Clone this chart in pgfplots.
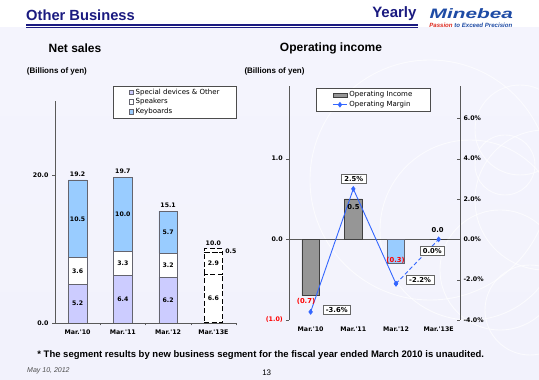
\documentclass[border=0pt]{standalone}
\usepackage{pgfplots}
\pgfplotsset{compat=1.18}
\usepackage{fontspec}
\setmainfont{Liberation Sans}
\newfontfamily\dv{DejaVu Sans}
\definecolor{navy}{RGB}{26,26,128}
\definecolor{lav}{RGB}{204,204,255}
\definecolor{kb}{RGB}{153,204,255}
\definecolor{bg}{RGB}{223,223,249}
\definecolor{bgtop}{RGB}{244,244,253}
\definecolor{bgbot}{RGB}{242,242,252}
\definecolor{lineblue}{RGB}{51,102,255}
\definecolor{logoblue}{RGB}{30,75,165}
\definecolor{logored}{RGB}{220,40,30}
\definecolor{barbd}{RGB}{100,100,110}
\definecolor{oigray}{RGB}{150,150,150}
\newcommand\lf{\dv\bfseries\fontsize{6.2}{7}\selectfont}
\newcommand\rf{\dv\bfseries\fontsize{6.8}{7}\selectfont}
\newcommand\tf{\dv\bfseries\fontsize{6.3}{7}\selectfont}
\newcommand\legf{\dv\fontsize{7}{8}\selectfont}
\pgfplotsset{
  sqleg/.style={legend image code/.code={\draw[##1,line width=0.5pt] (0pt,-2.3pt) rectangle (4.6pt,2.3pt);}},
}
\tikzset{boxlab/.style={font=\rf, draw=black!60, fill=white, inner xsep=3pt, inner ysep=1.8pt}}
\begin{document}
\begin{tikzpicture}
\useasboundingbox (0,0) rectangle (539pt,380pt);
% background
\fill[white] (0,0) rectangle (539pt,380pt);
\shade[top color=bgtop, middle color=bg, bottom color=bgbot] (0,0) rectangle (539pt,352pt);
\begin{scope}
  \clip (250pt,0pt) rectangle (539pt,352pt);
  \begin{scope}[white, line width=0.9pt, opacity=0.7]
    \draw (520pt,250pt) circle (45pt);
    \draw (505pt,215pt) circle (30pt);
    \draw (500pt,110pt) circle (60pt);
    \draw (530pt,70pt) circle (45pt);
    \draw (470pt,150pt) circle (90pt);
    \draw (545pt,180pt) circle (70pt);
    \draw (430pt,200pt) circle (120pt);
  \end{scope}
\end{scope}

% header
\node[anchor=west, text=navy, font=\bfseries\fontsize{14.7}{15}\selectfont, inner sep=0pt] at (26pt,365pt) {Other Business};
\draw[navy, line width=1.7pt] (26pt,355.2pt) -- (418pt,355.2pt);
\draw[navy, line width=0.8pt] (26pt,352.8pt) -- (418pt,352.8pt);
\node[anchor=east, text=navy, font=\bfseries\fontsize{15}{15}\selectfont, inner sep=0pt] at (416.7pt,366pt) {Yearly};
\node[text=logoblue, inner sep=0pt] at (471.3pt,366pt) {\scalebox{1.6}[1.05]{\fontsize{13}{13}\selectfont\bfseries\itshape Minebea}};
\node[text=logoblue, inner sep=0pt] at (470.8pt,354.3pt) {\resizebox{83pt}{!}{\fontsize{5.5}{5.5}\selectfont\bfseries\itshape\textcolor{logored}{Passion} to Exceed Precision}};

\node[font=\bfseries\fontsize{12}{12}\selectfont, inner sep=0pt] at (75pt,332pt) {Net sales};
\node[font=\bfseries\fontsize{12}{12}\selectfont, inner sep=0pt] at (331pt,332pt) {Operating income};
\node[anchor=west, font=\bfseries\fontsize{8}{8}\selectfont, inner sep=0pt] at (26.7pt,309pt) {(Billions of yen)};
\node[anchor=west, font=\bfseries\fontsize{8}{8}\selectfont, inner sep=0pt] at (244.3pt,309pt) {(Billions of yen)};

% ---------- Net sales ----------
\begin{axis}[
  at={(55pt,57pt)}, anchor=south west, scale only axis,
  width=181pt, height=222.3pt,
  xmin=-0.5, xmax=3.5, ymin=0, ymax=30,
  ybar stacked, bar width=18.5pt,
  axis lines*=left,
  axis line style={-, draw=black!65, line width=0.8pt},
  xtick={0,1,2,3}, xticklabels={Mar.'10,Mar.'11,Mar.'12,Mar.'13E},
  major x tick style={draw=none},
  minor xtick={0.5,1.5,2.5,3.5}, minor x tick style={draw=black!65},
  minor tick length=2.5pt, major tick length=3pt, tick align=outside,
  ytick={0,20}, yticklabels={0.0,20.0}, ytick style={draw=black!65},
  tick label style={font=\tf},
  legend style={at={(0.663,0.994)}, anchor=center, draw=black!70, fill=white,
    font=\legf, inner xsep=15pt, inner ysep=1pt, row sep=-1pt, cells={anchor=west}},
  legend cell align=left,
]
\addplot[fill=lav, draw=barbd, line width=0.6pt, sqleg] coordinates {(0,5.2) (1,6.4) (2,6.2)};
\addlegendentry{Special devices \& Other}
\addplot[fill=white, draw=barbd, line width=0.6pt, sqleg] coordinates {(0,3.6) (1,3.3) (2,3.2)};
\addlegendentry{Speakers}
\addplot[fill=kb, draw=barbd, line width=0.6pt, sqleg] coordinates {(0,10.5) (1,10.0) (2,5.7)};
\addlegendentry{Keyboards}
\end{axis}

\begin{axis}[
  at={(55pt,57pt)}, anchor=south west, scale only axis,
  width=181pt, height=222.3pt,
  xmin=-0.5, xmax=3.5, ymin=0, ymax=30,
  ybar stacked, bar width=18.5pt, hide axis,
]
\addplot[fill=white, draw=black, line width=1.1pt, dash pattern=on 5pt off 2.5pt] coordinates {(3,6.6)};
\addplot[fill=white, draw=black, line width=1.1pt, dash pattern=on 5pt off 2.5pt] coordinates {(3,2.9)};
\addplot[fill=white, draw=black, line width=1.1pt, dash pattern=on 5pt off 2.5pt] coordinates {(3,0.5)};
\end{axis}

% labels of the net sales chart
\begin{axis}[
  at={(55pt,57pt)}, anchor=south west, scale only axis,
  width=181pt, height=222.3pt,
  xmin=-0.5, xmax=3.5, ymin=0, ymax=30, hide axis, clip=false,
]
\node[font=\lf] at (axis cs:0,2.6) {5.2};
\node[font=\lf] at (axis cs:0,7.0) {3.6};
\node[font=\lf] at (axis cs:0,13.95) {10.5};
\node[font=\lf, yshift=6pt] at (axis cs:0,19.2) {19.2};
\node[font=\lf] at (axis cs:1,3.2) {6.4};
\node[font=\lf] at (axis cs:1,8.05) {3.3};
\node[font=\lf] at (axis cs:1,14.7) {10.0};
\node[font=\lf, yshift=6pt] at (axis cs:1,19.7) {19.7};
\node[font=\lf] at (axis cs:2,3.1) {6.2};
\node[font=\lf] at (axis cs:2,7.8) {3.2};
\node[font=\lf] at (axis cs:2,12.25) {5.7};
\node[font=\lf, yshift=6pt] at (axis cs:2,15.1) {15.1};
\node[font=\lf] at (axis cs:3,3.3) {6.6};
\node[font=\lf] at (axis cs:3,8.05) {2.9};
\node[font=\lf, xshift=17.5pt] at (axis cs:3,9.75) {0.5};
\node[font=\lf, yshift=6pt] at (axis cs:3,10.0) {10.0};
\end{axis}

% ---------- Operating income ----------
\begin{axis}[
  at={(289.3pt,60pt)}, anchor=south west, scale only axis,
  width=170.7pt, height=234pt,
  xmin=-0.5, xmax=3.5, ymin=-1, ymax=1.9,
  ybar, bar width=17.5pt, bar shift=0pt,
  axis y line*=left, axis x line*=bottom,
  x axis line style={draw=none},
  y axis line style={-, draw=black!65, line width=0.8pt},
  xtick={0,1,2,3}, xticklabels={Mar.'10,Mar.'11,Mar.'12,Mar.'13E},
  major x tick style={draw=none},
  ytick={-1,0,1}, yticklabels={{\textcolor{red}{(1.0)}},0.0,1.0},
  ytick style={draw=black!65}, major tick length=3pt, tick align=outside,
  tick label style={font=\tf},
  clip=false,
]
\draw[black!65, line width=0.8pt] (axis cs:-0.5,0) -- (axis cs:3.5,0);
\addplot[fill=oigray, draw=black!75, line width=0.6pt] coordinates {(0,-0.7) (1,0.5) (3,0.0)};
\addplot[fill=kb, draw=barbd, line width=0.6pt, forget plot] coordinates {(2,-0.3)};
\end{axis}

\begin{axis}[
  at={(289.3pt,60pt)}, anchor=south west, scale only axis,
  width=170.7pt, height=234pt,
  xmin=-0.5, xmax=3.5, ymin=-4, ymax=7.6,
  axis y line*=right, axis x line=none,
  y axis line style={-, draw=black!65, line width=0.8pt},
  ytick={-4,-2,0,2,4,6},
  yticklabels={-4.0\%,-2.0\%,0.0\%,2.0\%,4.0\%,6.0\%},
  ytick style={draw=black!65}, major tick length=3pt, tick align=inside,
  tick label style={font=\tf},
  legend style={at={(0.4928,0.941)}, anchor=center, draw=black!70, fill=white,
    font=\legf, inner xsep=16pt, inner ysep=1pt, row sep=-1pt, cells={anchor=west}},
  legend cell align=left,
  clip=false,
]
\addlegendimage{legend image code/.code={\draw[fill=oigray, draw=black!75, line width=0.6pt] (0pt,-2pt) rectangle (14pt,2pt);}}
\addlegendentry{Operating Income}
\addplot[lineblue, line width=0.9pt, mark=diamond*, mark size=2.2pt,
  legend image code/.code={\draw[lineblue, line width=0.9pt] (0pt,0pt) -- (14pt,0pt); \fill[lineblue] (7pt,2.2pt) -- (8.6pt,0pt) -- (7pt,-2.2pt) -- (5.4pt,0pt) -- cycle;}]
  coordinates {(0,-3.6) (1,2.5) (2,-2.2)};
\addlegendentry{Operating Margin}
\addplot[lineblue, line width=0.9pt, dash pattern=on 4pt off 2.5pt, mark=diamond*, mark size=2.2pt, mark options={solid}, forget plot] coordinates {(2,-2.2) (3,0.0)};
\end{axis}

% labels of the operating income chart
\begin{axis}[
  at={(289.3pt,60pt)}, anchor=south west, scale only axis,
  width=170.7pt, height=234pt,
  xmin=-0.5, xmax=3.5, ymin=-1, ymax=1.9, hide axis, clip=false,
]
\node[font=\rf, text=red, xshift=-4.6pt, yshift=-5.2pt] at (axis cs:0,-0.7) {(0.7)};
\node[font=\rf, xshift=0.2pt, yshift=-7.7pt] at (axis cs:1,0.5) {0.5};
\node[font=\rf, text=red, xshift=-0.4pt, yshift=3.5pt] at (axis cs:2,-0.3) {(0.3)};
\node[font=\rf, xshift=-1pt, yshift=9.3pt] at (axis cs:3,0.0) {0.0};
\node[boxlab, xshift=26.1pt, yshift=1.9pt] at (axis cs:0,-0.9) {-3.6\%};
\node[boxlab, xshift=0.4pt, yshift=10.2pt] at (axis cs:1,0.625) {2.5\%};
\node[boxlab, xshift=24.1pt, yshift=3.7pt] at (axis cs:2,-0.55) {-2.2\%};
\node[boxlab, xshift=-6.4pt, yshift=-11.4pt] at (axis cs:3,0.0) {0.0\%};
\end{axis}

% footer
\node[font=\bfseries\fontsize{9.5}{10}\selectfont, inner sep=0pt] at (260.7pt,25pt) {* The segment results by new business segment for the fiscal year ended March 2010 is unaudited.};
\node[anchor=west, font=\itshape\fontsize{7}{7}\selectfont, text=black!70, inner sep=0pt] at (27pt,9pt) {May 10, 2012};
\node[font=\fontsize{8}{8}\selectfont, inner sep=0pt] at (266.7pt,7pt) {13};
\end{tikzpicture}
\end{document}
